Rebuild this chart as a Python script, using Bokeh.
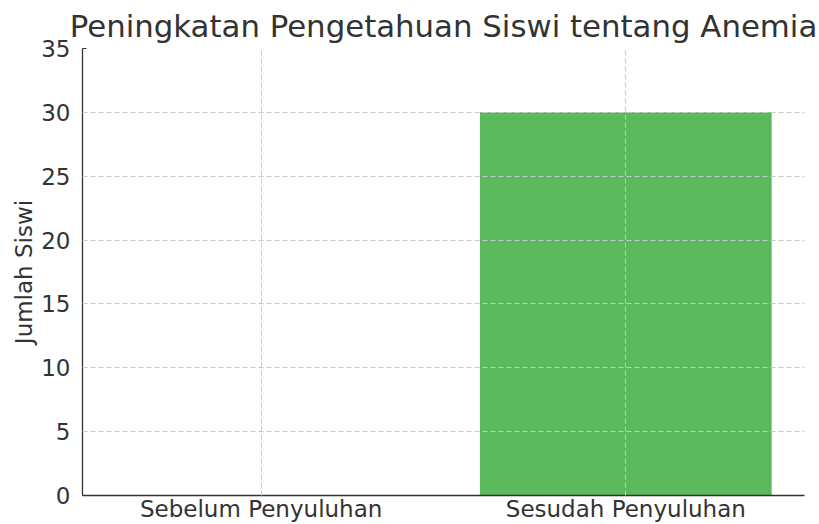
from bokeh.plotting import figure
from bokeh.models import FactorRange, Range1d, SingleIntervalTicker, ColumnDataSource
from bokeh.embed import file_html
from bokeh.resources import INLINE

categories = ["Sebelum Penyuluhan", "Sesudah Penyuluhan"]
jumlah_siswi = [0, 30]
title_text = "Peningkatan Pengetahuan Siswi tentang Anemia"
y_label = "Jumlah Siswi"

src = ColumnDataSource(data=dict(cat=categories, val=jumlah_siswi))

FONT = "DejaVu Sans"
TXT = "#333333"

p = figure(
    width=819, height=524,
    x_range=FactorRange(*categories, range_padding=-0.01, range_padding_units="absolute"),
    y_range=Range1d(0, 35),
    output_backend="svg", toolbar_location=None,
    min_border_left=82, min_border_right=15, min_border_top=41, min_border_bottom=0,
)

p.vbar(x="cat", top="val", width=0.8, source=src, fill_color="#5cb85c", line_color=None)

p.title.text = title_text
p.title.align = "center"
p.title.text_font = FONT
p.title.text_font_size = "30.8px"
p.title.text_font_style = "normal"
p.title.text_color = TXT

p.outline_line_color = None

p.yaxis.ticker = SingleIntervalTicker(interval=5)
p.yaxis.axis_label = y_label
for ax in (p.xaxis[0], p.yaxis[0]):
    ax.axis_label_text_font = FONT
    ax.axis_label_text_font_size = "23px"
    ax.axis_label_text_font_style = "normal"
    ax.axis_label_text_color = TXT
    ax.major_label_text_font = FONT
    ax.major_label_text_font_size = "23px"
    ax.major_label_text_color = TXT
    ax.axis_line_color = "#333333"
    ax.axis_line_width = 1.3
    ax.major_tick_line_color = "#333333"
    ax.major_tick_out = 0
    ax.major_tick_in = 4
    ax.minor_tick_line_color = None
p.yaxis.major_label_standoff = 8
p.yaxis.axis_label_standoff = 1
p.xaxis.major_label_standoff = 0

for g in (p.xgrid[0], p.ygrid[0]):
    g.grid_line_color = "#c8c8c8"
    g.grid_line_dash = "5 3"
    g.grid_line_width = 1
    g.level = "overlay"

open("out.html", "w").write(file_html(p, INLINE))
